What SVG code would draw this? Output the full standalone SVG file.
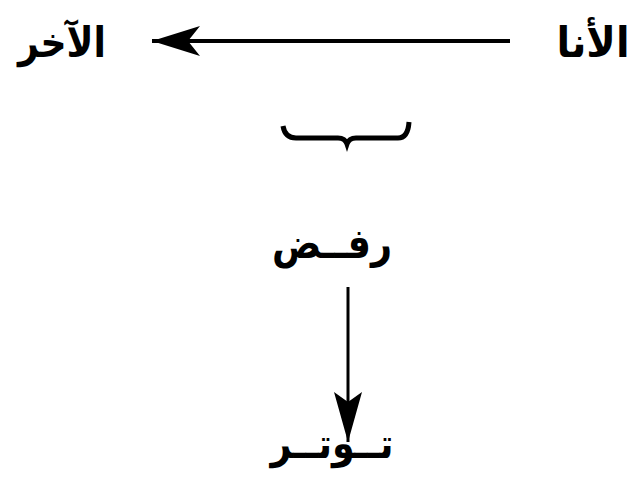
<svg xmlns="http://www.w3.org/2000/svg" width="634" height="478" viewBox="0 0 634 478">
<style>
.t{font-family:"DejaVu Sans",sans-serif;font-weight:bold;font-size:42px;fill:#000;text-anchor:middle;direction:rtl}
.c{stroke:#000;fill:none}
</style>
<defs>
<marker id="ah" viewBox="0 0 48 30" refX="48" refY="15" markerWidth="48" markerHeight="30" markerUnits="userSpaceOnUse" orient="auto">
<path d="M0,0 L48,15 L0,30 L12,15 Z" fill="#000"/>
</marker>
<marker id="av" viewBox="0 0 50 28" refX="50" refY="14" markerWidth="50" markerHeight="28" markerUnits="userSpaceOnUse" orient="auto">
<path d="M0,0 L50,14 L0,28 L10,14 Z" fill="#000"/>
</marker>
</defs>
<rect width="634" height="478" fill="#fff"/>
<g id="ana"><text class="t" x="593" y="57" textLength="73" lengthAdjust="spacingAndGlyphs">الأنا</text></g>
<g id="akhar"><text class="t" x="62" y="57" textLength="88" lengthAdjust="spacingAndGlyphs">الآخر</text></g>
<g id="brace"><path d="M283,126 Q285,138 296,138 L338,138 Q345,138 347,144 Q349,138 356,138 L398,138 Q408,138 409,122" stroke="#000" stroke-width="5" fill="none"/></g>
<g id="rafd"><text class="t" x="332" y="258" textLength="120" lengthAdjust="spacingAndGlyphs">رفــض</text></g>
<g id="tawattur"><text class="t" x="332" y="458" textLength="123" lengthAdjust="spacingAndGlyphs">تــوتــر</text></g>
<g id="connectors">
<line class="c" x1="510" y1="41" x2="152" y2="41" stroke-width="4" marker-end="url(#ah)"/>
<line class="c" x1="348" y1="287" x2="348" y2="442" stroke-width="3" marker-end="url(#av)"/>
</g>
</svg>
